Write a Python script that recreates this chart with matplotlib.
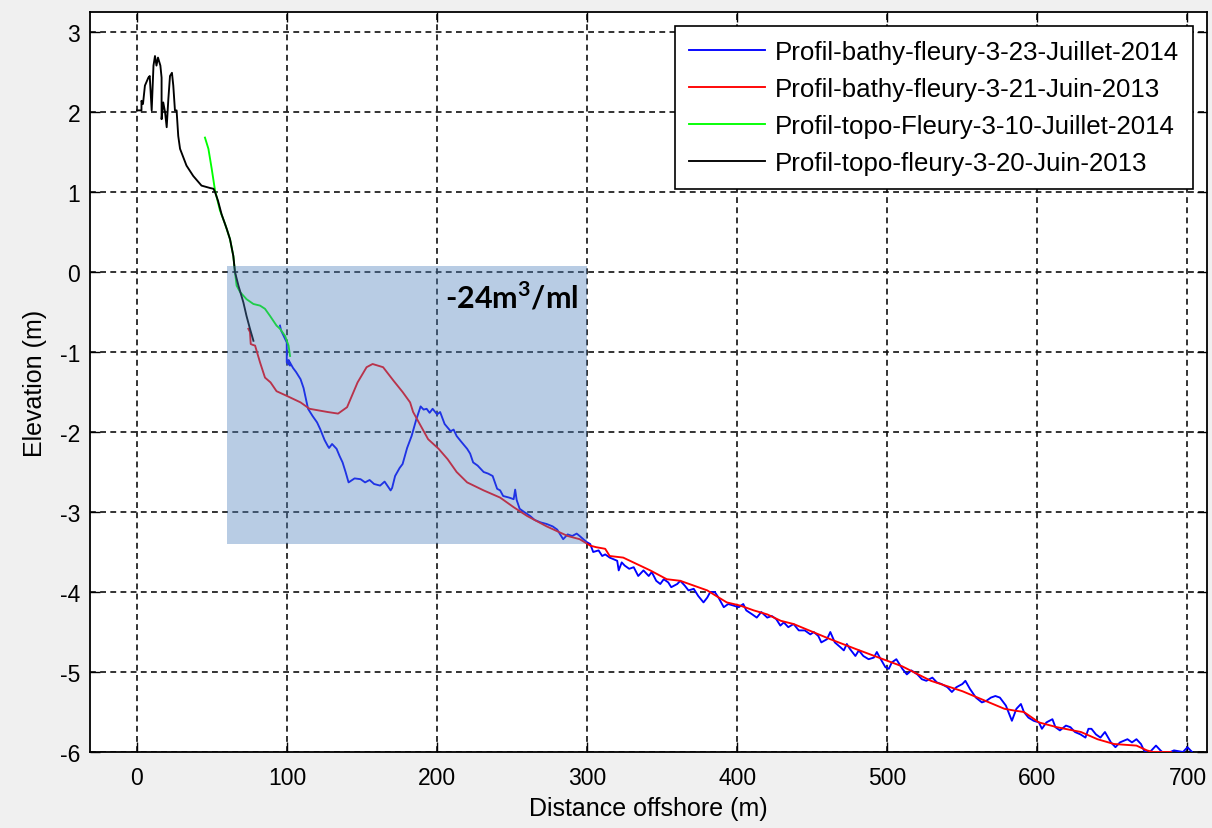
import matplotlib
matplotlib.use("Agg")
import matplotlib.pyplot as plt
from matplotlib.patches import Rectangle

# ---------------- data ----------------
blue_x = [95.3, 96, 99.8, 99.8, 102, 101, 104, 106, 109, 111, 114, 117, 120, 122, 125, 127,
          128, 130, 133, 135, 137, 139, 141, 145, 149, 152, 155, 158, 162, 165, 169, 170,
          172, 175, 177, 180, 183, 186, 189, 191, 193, 195, 197, 200, 202, 205, 209, 211,
          213, 216, 220, 222, 224, 227, 231, 234, 237, 240, 242, 244, 248, 251, 252, 253,
          255, 258, 262, 265, 269, 273, 277, 280, 284, 287, 290, 293, 295, 298, 300,
          302, 304, 307.6, 310, 312, 315, 320, 321, 323, 325, 328, 331, 334, 337.5, 341,
          343, 346, 348.7, 351, 354, 356, 360, 362, 365, 367.5, 371, 374, 377.5, 380, 382,
          385, 387.5, 391, 394, 397.5, 401, 404, 406, 410, 413, 416, 420, 423, 426, 428.7,
          431, 434, 437.5, 441, 445, 448.7, 451, 454, 456, 459.8, 462, 465, 468.7, 471,
          473, 475, 478.7, 481, 484, 487.5, 491, 493, 495, 498.7, 501, 503, 506, 510, 513,
          516, 520, 523, 526, 530, 533, 536, 540, 543, 546, 550, 552, 555, 559, 563, 566,
          569, 572, 575, 579, 583, 586, 589, 591, 594, 597.5, 601, 603, 606, 610, 612, 615,
          619, 622, 625, 628.7, 632, 634, 636, 639, 642, 645, 649, 652, 655, 660, 663, 666,
          669, 671, 674, 679, 682, 685, 691, 697, 700, 702, 706]
blue_y = [-0.67, -0.73, -0.88, -1.13, -1.17, -1.10, -1.20, -1.25, -1.34, -1.45, -1.71, -1.80,
          -1.88, -1.96, -2.10, -2.17, -2.20, -2.15, -2.21, -2.30, -2.38, -2.50, -2.63, -2.58,
          -2.59, -2.63, -2.60, -2.65, -2.67, -2.62, -2.73, -2.70, -2.55, -2.45, -2.40, -2.20,
          -2.05, -1.85, -1.68, -1.72, -1.71, -1.76, -1.71, -1.78, -1.75, -1.90, -1.99, -1.97,
          -2.05, -2.12, -2.21, -2.27, -2.38, -2.42, -2.50, -2.52, -2.55, -2.71, -2.73, -2.80,
          -2.82, -2.84, -2.72, -2.85, -2.96, -3.00, -3.05, -3.10, -3.13, -3.15, -3.18, -3.22,
          -3.34, -3.28, -3.30, -3.27, -3.30, -3.35, -3.38,
          -3.40, -3.50, -3.48, -3.55, -3.53, -3.57, -3.61, -3.73, -3.63, -3.67, -3.71, -3.69,
          -3.80, -3.73, -3.80, -3.75, -3.86, -3.90, -3.84, -3.88, -3.94, -3.90, -3.86, -3.92,
          -3.98, -3.96, -4.05, -4.13, -4.07, -4.00, -4.00, -4.07, -4.19, -4.15, -4.17, -4.19,
          -4.15, -4.23, -4.28, -4.32, -4.25, -4.32, -4.30, -4.34, -4.42, -4.38, -4.44, -4.40,
          -4.48, -4.48, -4.53, -4.50, -4.55, -4.63, -4.59, -4.50, -4.63, -4.69, -4.73, -4.65,
          -4.71, -4.80, -4.73, -4.80, -4.84, -4.82, -4.75, -4.82, -4.94, -4.96, -4.88, -4.84,
          -4.96, -5.03, -4.98, -5.03, -5.09, -5.11, -5.07, -5.13, -5.15, -5.19, -5.25, -5.19,
          -5.15, -5.11, -5.21, -5.32, -5.38, -5.36, -5.32, -5.30, -5.32, -5.42, -5.61, -5.46,
          -5.40, -5.50, -5.57, -5.61, -5.63, -5.71, -5.63, -5.59, -5.69, -5.73, -5.67, -5.69,
          -5.75, -5.78, -5.82, -5.71, -5.71, -5.78, -5.82, -5.75, -5.88, -5.94, -5.88, -5.84,
          -5.88, -5.84, -5.90, -5.98, -6.02, -5.92, -5.98, -6.03, -5.98, -6.00, -5.94, -5.98,
          -6.05]

red_x = [74.2, 75.3, 75.8, 77, 78.7, 82, 85.3, 89, 93, 100, 109, 115, 121, 127, 134, 140,
         147, 153, 157, 164, 171, 177, 182, 184, 189, 194, 201, 207, 213, 220, 231, 242,
         251, 260, 273, 287, 295, 302, 306, 312, 315, 324, 333, 342, 353, 362, 371, 380,
         386, 393, 402, 411, 420, 429, 437.5, 462, 480, 500, 510, 529, 550, 578, 584, 591,
         601, 613, 629, 640, 651, 666, 673, 677, 689]
red_y = [-0.71, -0.75, -0.90, -0.91, -0.92, -1.13, -1.32, -1.38, -1.49, -1.55, -1.63, -1.71,
         -1.73, -1.75, -1.77, -1.69, -1.38, -1.19, -1.15, -1.19, -1.36, -1.50, -1.63, -1.75,
         -1.92, -2.09, -2.21, -2.34, -2.50, -2.63, -2.73, -2.82, -2.94, -3.05, -3.18, -3.30,
         -3.34, -3.42, -3.44, -3.46, -3.55, -3.57, -3.65, -3.73, -3.84, -3.86, -3.92, -3.98,
         -4.05, -4.13, -4.17, -4.23, -4.28, -4.36, -4.40, -4.59, -4.72, -4.86, -4.93, -5.11,
         -5.24, -5.46, -5.48, -5.50, -5.63, -5.69, -5.75, -5.84, -5.90, -5.92, -5.98, -6.00,
         -6.00]

green_x = [45.3, 47.6, 49.8, 52, 55.3, 58.7, 62, 64.2, 65.3, 66.4, 68.7, 73, 77.6, 82, 85.3,
           88.7, 93, 95.3, 98.7, 101, 102]
green_y = [1.68, 1.54, 1.29, 1.02, 0.77, 0.60, 0.41, 0.20, 0.00, -0.17, -0.25, -0.34, -0.40,
           -0.42, -0.46, -0.55, -0.67, -0.71, -0.80, -0.92, -1.05]

black_x = [0, 3, 3, 4, 5.3, 7.6, 8.5, 9.8, 11, 12, 13, 14, 15.6, 16.4, 16.4, 17.5, 18.7,
           19.8, 20.9, 22, 23.3, 24.2, 25.3, 26.4, 27.5, 28.7, 33, 37.5, 43, 48.7, 51, 52,
           54, 56.4, 59.8, 62, 64.2, 65.3, 67.6, 70.9, 73, 75.3, 77.6]
black_y = [2.02, 2.02, 2.14, 2.10, 2.33, 2.43, 2.45, 2.02, 2.58, 2.70, 2.58, 2.68, 2.58,
           2.43, 1.91, 2.12, 2.00, 1.81, 2.16, 2.45, 2.49, 2.33, 2.02, 2.02, 1.70, 1.54,
           1.33, 1.20, 1.08, 1.05, 1.04, 1.00, 0.89, 0.72, 0.54, 0.41, 0.20, 0.00, -0.17,
           -0.38, -0.55, -0.71, -0.86]

series_labels = ["Profil-bathy-fleury-3-23-Juillet-2014",
                 "Profil-bathy-fleury-3-21-Juin-2013",
                 "Profil-topo-Fleury-3-10-Juillet-2014",
                 "Profil-topo-fleury-3-20-Juin-2013"]

box_x = [60, 300]
box_y = [-3.4, 0.07]
annotation = r"-24m$^{\mathbf{3}}$/ml"

x_ticks = [0, 100, 200, 300, 400, 500, 600, 700]
y_ticks = [-6, -5, -4, -3, -2, -1, 0, 1, 2, 3]

# ---------------- figure ----------------
plt.rcParams['font.family'] = ['Liberation Sans', 'DejaVu Sans']
plt.rcParams['axes.unicode_minus'] = False
plt.rcParams['mathtext.fontset'] = 'custom'
plt.rcParams['mathtext.bf'] = 'Lato:bold'
plt.rcParams['mathtext.rm'] = 'Lato:bold'

fig = plt.figure(figsize=(12.12, 8.29), dpi=100, facecolor='#f0f0f0')
ax = fig.add_axes([90 / 1212, 76 / 829, (1207 - 90) / 1212, (816 - 76) / 829])
ax.set_facecolor('white')

lw = 1.35
ax.plot(blue_x, blue_y, color='#0000ff', lw=lw, label=series_labels[0], zorder=3)
ax.plot(red_x, red_y, color='#ff0000', lw=lw, label=series_labels[1], zorder=3)
ax.plot(green_x, green_y, color='#00ff00', lw=lw, label=series_labels[2], zorder=3)
ax.plot(black_x, black_y, color='#000000', lw=lw, label=series_labels[3], zorder=3)

ax.set_xlim(-31.3, 713)
ax.set_ylim(-6.0, 3.25)
ax.set_xticks(x_ticks)
ax.set_yticks(y_ticks)
ax.tick_params(axis='both', direction='in', length=7, width=1.0, top=True, right=True,
               labelsize=16.5, colors='black')
ax.tick_params(axis='x', pad=10)
ax.tick_params(axis='y', pad=7)
ax.grid(True, color='#111111', linestyle=(0, (3.5, 2.6)), linewidth=1.2, zorder=1)
ax.set_axisbelow(True)
for s in ax.spines.values():
    s.set_linewidth(1.3)
    s.set_color('black')

ax.set_xlabel("Distance offshore (m)", fontsize=18, labelpad=5)
ax.set_ylabel("Elevation (m)", fontsize=18, labelpad=9)

rect = Rectangle((box_x[0], box_y[0]), box_x[1] - box_x[0], box_y[1] - box_y[0],
                 facecolor='#4f81bd', alpha=0.4, edgecolor='none', zorder=4)
ax.add_patch(rect)

ax.text(205, -0.3, annotation, fontsize=22, fontweight='bold', family=['Lato', 'DejaVu Sans'],
        ha='left', va='center', color='black', zorder=6)

leg = ax.legend(loc='upper right', fontsize=18.6, frameon=True, fancybox=False,
                edgecolor='black', framealpha=1, handlelength=2.95, handletextpad=0.35,
                labelspacing=0.5, borderaxespad=0.55, borderpad=0.55)
leg.get_frame().set_linewidth(1.2)
leg.set_zorder(7)

fig.savefig("out.png", dpi=100, facecolor=fig.get_facecolor())
